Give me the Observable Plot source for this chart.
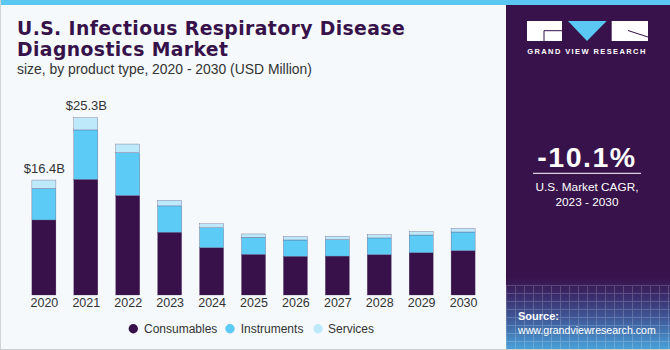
<!DOCTYPE html>
<html><head><meta charset="utf-8">
<script src="https://cdn.jsdelivr.net/npm/d3@7"></script>
<script src="https://cdn.jsdelivr.net/npm/@observablehq/plot@0.6"></script>
<style>
html,body{margin:0;padding:0}
body{width:670px;height:350px;overflow:hidden;background:#f5f9fc;position:relative;font-family:"Liberation Sans",Arial,sans-serif}
#leftline{position:absolute;left:0;top:0;width:1px;height:350px;background:#cfd3d6}
#bottomline{position:absolute;left:0;top:349px;width:670px;height:1px;background:#c9cdd0}
#panel{position:absolute;left:506px;top:5px;width:164px;height:345px;
 background:linear-gradient(to bottom,#38124a 0px,#38124a 272px,#3b2a6a 290px,#3f5c9c 315px,#4aa3da 345px)}
#grid{position:absolute;left:0;top:280px;width:164px;height:65px;opacity:0.18;
 background-image:repeating-linear-gradient(90deg,#fff 0 1px,transparent 1px 9px),repeating-linear-gradient(0deg,#fff 0 1px,transparent 1px 8px)}
#topbar{position:absolute;left:0;top:0;width:670px;height:5px;background:#5bc8f3}
#chart{position:absolute;left:0;top:90px}
#deco{position:absolute;left:0;top:0}
</style></head><body>
<div id="panel"><div id="grid"></div></div>
<div id="topbar"></div>
<div id="leftline"></div>
<div id="bottomline"></div>
<div id="chart"></div>
<svg id="deco" width="670" height="350"></svg>
<script>
const years = ["2020","2021","2022","2023","2024","2025","2026","2027","2028","2029","2030"];
const consumables = [10.7, 16.5, 14.2, 8.95, 6.75, 5.8, 5.52, 5.55, 5.76, 6.04, 6.33];
const instruments = [4.5, 7.05, 6.1, 3.76, 2.85, 2.43, 2.33, 2.35, 2.38, 2.52, 2.66];
const services = [1.2, 1.75, 1.24, 0.81, 0.57, 0.48, 0.52, 0.5, 0.48, 0.52, 0.52];
const totalLabels = ["$16.4B","$25.3B","","","","","","","","",""];
const seriesNames = ["Consumables","Instruments","Services"];
const seriesColors = ["#38104a","#5ccbf5","#bee9fb"];
const titleLines = ["U.S. Infectious Respiratory Disease","Diagnostics Market"];
const subtitle = "size, by product type, 2020 - 2030 (USD Million)";
const cagrValue = "-10.1%";
const cagrLines = ["U.S. Market CAGR,","2023 - 2030"];

const seriesValues = [consumables, instruments, services];
const rows = [];
years.forEach((y,i)=>seriesNames.forEach((s,j)=>rows.push({year:y,type:s,value:seriesValues[j][i]})));
const totals = years.map((y,i)=>({year:y,total:consumables[i]+instruments[i]+services[i],label:totalLabels[i]})).filter(d=>d.label);

const plot = Plot.plot({
  width:506, height:225,
  marginLeft:14, marginRight:13, marginTop:0, marginBottom:20,
  style:{background:"transparent",fontSize:"12.5px",color:"#333",fontFamily:"'Liberation Sans',Arial,sans-serif"},
  x:{domain:years,padding:0.427,round:false,label:null},
  y:{domain:[0,29.25],axis:null},
  color:{domain:seriesNames,range:seriesColors},
  marks:[
    Plot.barY(rows,{x:"year",y:"value",fill:"type",stroke:"#5a3f6e",strokeWidth:0.3}),
    Plot.text(totals,{x:"year",y:"total",text:"label",dy:-12,lineAnchor:"middle",fontSize:13,fill:"#333"}),
    Plot.axisX({tickSize:0,tickPadding:3,fill:"#333"})
  ]
});
document.getElementById("chart").appendChild(plot);

const ns="http://www.w3.org/2000/svg";
const deco=document.getElementById("deco");
function el(tag,attrs,text){const e=document.createElementNS(ns,tag);for(const k in attrs)e.setAttribute(k,attrs[k]);if(text!=null)e.textContent=text;deco.appendChild(e);return e;}
// title
el("text",{x:17,y:35,"font-family":"DejaVu Sans","font-weight":"bold","font-size":"18.8","letter-spacing":"0.4",fill:"#37124a"},titleLines[0]);
el("text",{x:17,y:56,"font-family":"DejaVu Sans","font-weight":"bold","font-size":"18.8","letter-spacing":"0.4",fill:"#37124a"},titleLines[1]);
el("text",{x:17,y:74,"font-family":"Liberation Sans","font-size":"13.9",fill:"#333"},subtitle);
// legend
const legendX=[[133.3,144],[230,240.7],[318,328]];
seriesNames.forEach((s,i)=>{
  el("circle",{cx:legendX[i][0],cy:328.7,r:4.7,fill:seriesColors[i]});
  el("text",{x:legendX[i][1],y:333.3,"font-family":"Liberation Sans","font-size":"12",fill:"#333"},s);
});
// logo
el("rect",{x:527,y:21,width:35,height:20,fill:"#fff"});
el("path",{d:"M544,41 V30.7 H562",stroke:"#38124a","stroke-width":"1",fill:"none"});
el("path",{d:"M568,21 H606.7 L587,41 Z",fill:"#5bc8f3"});
el("rect",{x:611.7,y:21,width:36.3,height:20,fill:"#fff"});
el("path",{d:"M628,30.5 L648,37",stroke:"#38124a","stroke-width":"1",fill:"none"});
el("text",{x:587,y:54.3,"text-anchor":"middle","font-family":"Liberation Sans","font-weight":"bold","font-size":"7.5","letter-spacing":"1.4",fill:"#fff"},"GRAND VIEW RESEARCH");
// CAGR
el("text",{x:587,y:166.7,"text-anchor":"middle","font-family":"Liberation Sans","font-weight":"bold","font-size":"28.5","letter-spacing":"1.5",fill:"#fff"},cagrValue);
el("line",{x1:533,x2:641,y1:173.3,y2:173.3,stroke:"#d8cfe0","stroke-width":"1.3"});
el("text",{x:587,y:191.3,"text-anchor":"middle","font-family":"Liberation Sans","font-size":"11.8",fill:"#fff"},cagrLines[0]);
el("text",{x:587,y:206,"text-anchor":"middle","font-family":"Liberation Sans","font-size":"11.8",fill:"#fff"},cagrLines[1]);
// source
el("text",{x:518,y:320,"font-family":"Liberation Sans","font-weight":"bold","font-size":"11",fill:"#fff"},"Source:");
el("text",{x:518,y:334,"font-family":"Liberation Sans","font-size":"10.6",fill:"#fff"},"www.grandviewresearch.com");
</script>
</body></html>
